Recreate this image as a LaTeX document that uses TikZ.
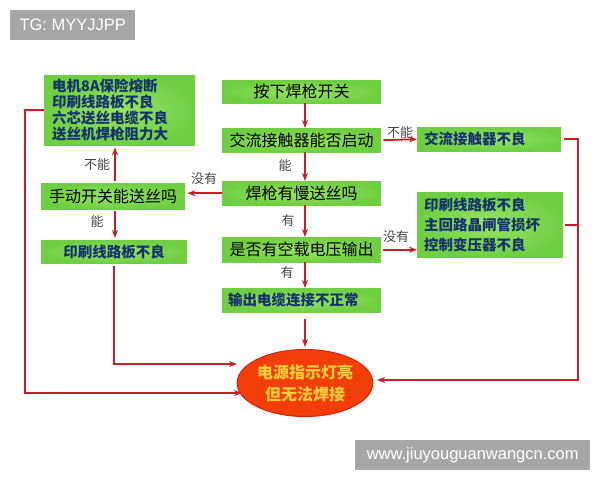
\documentclass[tikz,border=0pt]{standalone}
\usepackage{fontspec}
\setmainfont{Liberation Sans}
\newfontfamily\cjk{Noto Sans CJK SC}
\usetikzlibrary{arrows.meta,calc,shapes.geometric}
\definecolor{boxg}{RGB}{112,206,66}
\definecolor{boxl}{RGB}{150,228,100}
\definecolor{arrred}{RGB}{200,30,40}
\definecolor{txtblue}{RGB}{20,50,110}
\definecolor{ellred}{RGB}{242,62,8}
\definecolor{elledge}{RGB}{215,35,10}
\definecolor{elltxt}{RGB}{255,205,60}
\definecolor{wm}{RGB}{166,166,166}
\definecolor{lbl}{RGB}{70,70,70}
\begin{document}
\begin{tikzpicture}[x=1pt,y=-1pt,
  box/.style={inner color=boxl, outer color=boxg, inner sep=0pt, anchor=north west,
    font=\cjk\fontsize{16}{18}\selectfont, text=black},
  rbox/.style={box, font=\cjk\bfseries\fontsize{14.5}{16}\selectfont, text=txtblue},
  arr/.style={draw=arrred, line width=1.8pt, -{Stealth[length=8pt,width=6pt]}},
  link/.style={draw=arrred, line width=1.8pt},
  lab/.style={font=\cjk\fontsize{13}{13}\selectfont, text=lbl, inner sep=0pt},
  wmark/.style={fill=wm, text=white, font=\fontsize{16.5}{18}\selectfont, inner sep=0pt,
    anchor=north west, minimum height=30pt}]
\fill[white] (0,0) rectangle (600,480);
\useasboundingbox (0,0) rectangle (600,480);

\node[wmark, minimum width=125pt] (wm1) at (10,10) {TG: MYYJJPP};
\node[wmark, minimum width=235pt] (wm2) at (355,440) {www.jiuyouguanwangcn.com};

% center column
\node[box, minimum width=159pt, minimum height=23pt] (n1) at (222,80) {按下焊枪开关};
\node[box, minimum width=159pt, minimum height=24pt] (n2) at (222,128) {交流接触器能否启动};
\node[box, minimum width=159pt, minimum height=24pt] (n3) at (222,181) {焊枪有慢送丝吗};
\node[box, minimum width=159pt, minimum height=25pt] (n4) at (222,237) {是否有空载电压输出};
\node[rbox, text width=147pt, inner xsep=6pt, align=left, minimum height=24pt] (n5) at (222,288) {输出电缆连接不正常};

% right column
\node[rbox, text width=130pt, inner xsep=7pt, align=left, minimum height=24pt] (r1) at (417,127) {交流接触器不良};
\node[rbox, text width=132pt, inner xsep=7pt, align=left, minimum height=65pt,
  font=\cjk\bfseries\fontsize{14.5}{20}\selectfont] (r2) at (417,192) {印刷线路板不良\\主回路晶闸管损坏\\控制变压器不良};

% left column
\node[rbox, text width=135pt, inner xsep=8pt, align=left, minimum height=70pt] (l1) at (44,75) {电机8A保险熔断\\印刷线路板不良\\六芯送丝电缆不良\\送丝机焊枪阻力大};
\node[box, minimum width=144pt, minimum height=26pt] (l2) at (41,183) {手动开关能送丝吗};
\node[rbox, minimum width=146pt, minimum height=23pt] (l3) at (41,240) {印刷线路板不良};

% ellipse
\node[ellipse, fill=ellred, draw=elledge, line width=1pt, minimum width=126pt, minimum height=67pt,
  inner sep=0pt, align=center, text=elltxt, font=\cjk\bfseries\fontsize{16}{22}\selectfont] (e) at (305,383) {电源指示灯亮\\但无法焊接};

\coordinate (eL1) at (237,364);
\coordinate (eL2) at (242,393);
\coordinate (eR) at (377,380);
\coordinate (rx) at (578,0);
\coordinate (lx) at (25,0);
\coordinate (cx) at (305,0);
\coordinate (lcx) at (115,0);

% arrows
\draw[arr] (n1.south -| cx) -- (n2.north -| cx);
\draw[arr] (n2.south -| cx) -- (n3.north -| cx);
\draw[arr] (n3.south -| cx) -- (n4.north -| cx);
\draw[arr] (n4.south -| cx) -- (n5.north -| cx);
\draw[arr, shorten <=7pt, shorten >=2pt] (n5.south -| cx) -- (e.north);
\draw[arr, shorten <=2pt] (n2.east) -- (r1.west);
\draw[arr, shorten <=2pt] (n4.east) -- (n4.east -| r2.west);
\draw[arr, shorten >=2pt] (n3.west) -- (n3.west -| l2.east);
\draw[arr, shorten <=2pt, shorten >=2pt] (l2.north -| lcx) -- (l1.south -| lcx);
\draw[arr, shorten <=2pt, shorten >=2pt] (l2.south -| lcx) -- (l3.north -| lcx);
\draw[arr, shorten <=3pt] (l3.south) |- (eL1);
\draw[arr] (l1.west) -| (lx |- eL2) -- (eL2);
\draw[arr, shorten <=3pt] (r1.east) -| (rx |- eR) -- (eR);
\draw[link, shorten <=2pt] (r2.east) -- (r2.east -| rx);

% labels
\node[lab] (t1) at (285,166) {能};
\node[lab] (t2) at (400,133) {不能};
\node[lab] (t3) at (204,179) {没有};
\node[lab] (t4) at (97,165) {不能};
\node[lab] (t5) at (97,222) {能};
\node[lab] (t6) at (288,221) {有};
\node[lab] (t7) at (396,237) {没有};
\node[lab] (t8) at (287,273) {有};
\end{tikzpicture}
\end{document}
